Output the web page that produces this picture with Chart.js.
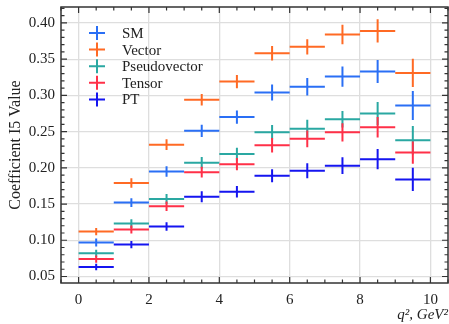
<!DOCTYPE html>
<html lang="en">
<head>
  <meta charset="UTF-8">
  <title>Coefficient I5 Value</title>
  <script src="https://cdn.jsdelivr.net/npm/chart.js"></script>
  <style>
    html, body { margin: 0; padding: 0; background: #fff; }
    canvas { display: block; }
  </style>
</head>
<body>

  <canvas id="myChart" width="449" height="324"></canvas>

  <script>
    // bins in q^2 (centre and half width)
    const q2Centers = [0.5, 1.5, 2.5, 3.5, 4.5, 5.5, 6.5, 7.5, 8.5, 9.5];
    const q2HalfWidth = 0.5;

    const seriesNames = ['SM', 'Vector', 'Pseudovector', 'Tensor', 'PT'];

    const smValues     = [0.097, 0.152, 0.195, 0.251, 0.270, 0.304, 0.312, 0.326, 0.333, 0.286];
    const smErrors     = [0.0055, 0.006, 0.0072, 0.0085, 0.009, 0.011, 0.012, 0.014, 0.016, 0.020];
    const vectorValues = [0.112, 0.179, 0.232, 0.294, 0.319, 0.358, 0.367, 0.384, 0.389, 0.331];
    const vectorErrors = [0.005, 0.0065, 0.0074, 0.008, 0.009, 0.010, 0.0106, 0.0134, 0.016, 0.0194];
    const pseudoValues = [0.082, 0.123, 0.157, 0.207, 0.219, 0.249, 0.254, 0.267, 0.275, 0.238];
    const pseudoErrors = [0.005, 0.006, 0.007, 0.008, 0.0088, 0.010, 0.0125, 0.0115, 0.016, 0.0196];
    const tensorValues = [0.074, 0.115, 0.147, 0.194, 0.205, 0.231, 0.240, 0.249, 0.256, 0.221];
    const tensorErrors = [0.005, 0.0055, 0.0065, 0.0075, 0.0085, 0.010, 0.0115, 0.0125, 0.0143, 0.0155];
    const ptValues     = [0.063, 0.094, 0.119, 0.160, 0.167, 0.189, 0.196, 0.203, 0.212, 0.184];
    const ptErrors     = [0.0045, 0.005, 0.006, 0.0076, 0.008, 0.009, 0.0104, 0.0115, 0.0139, 0.016];

    const xTicks = [0, 2, 4, 6, 8, 10];
    const yTicks = [0.05, 0.10, 0.15, 0.20, 0.25, 0.30, 0.35, 0.40];

    const colors = ['#2a6ff5', '#ff6a24', '#2aa8a2', '#ff3048', '#1515f0'];
    const allValues = [smValues, vectorValues, pseudoValues, tensorValues, ptValues];
    const allErrors = [smErrors, vectorErrors, pseudoErrors, tensorErrors, ptErrors];

    const serif = "'Liberation Serif', 'DejaVu Serif', serif";

    const datasets = seriesNames.map((name, i) => ({
      label: name,
      data: q2Centers.map((x, j) => ({ x: x, y: allValues[i][j] })),
      yErr: allErrors[i],
      borderColor: colors[i],
      backgroundColor: colors[i],
      pointRadius: 0,
      showLine: false
    }));

    // error bar crosses
    const errorBars = {
      id: 'errorBars',
      afterDatasetsDraw(chart) {
        const c = chart.ctx, xs = chart.scales.x, ys = chart.scales.y;
        c.save();
        c.lineWidth = 2;
        chart.data.datasets.forEach(ds => {
          c.strokeStyle = ds.borderColor;
          ds.data.forEach((p, j) => {
            const px = xs.getPixelForValue(p.x), py = ys.getPixelForValue(p.y);
            c.beginPath();
            c.moveTo(xs.getPixelForValue(p.x - q2HalfWidth), py);
            c.lineTo(xs.getPixelForValue(p.x + q2HalfWidth), py);
            c.moveTo(px, ys.getPixelForValue(p.y - ds.yErr[j]));
            c.lineTo(px, ys.getPixelForValue(p.y + ds.yErr[j]));
            c.stroke();
          });
        });
        c.restore();
      }
    };

    // frame with inward ticks on all four sides + legend inside the axes
    const frameAndLegend = {
      id: 'frameAndLegend',
      afterDraw(chart) {
        const c = chart.ctx, a = chart.chartArea, xs = chart.scales.x, ys = chart.scales.y;
        c.save();
        c.strokeStyle = '#333';
        c.lineWidth = 1.5;
        c.strokeRect(a.left, a.top, a.right - a.left, a.bottom - a.top);

        c.lineWidth = 1.2;
        c.beginPath();
        for (let v = -0.5; v <= 10.5 + 1e-9; v += 0.5) {
          const px = xs.getPixelForValue(v);
          const len = Math.abs(v % 2) < 1e-9 ? 6 : 3.5;
          c.moveTo(px, a.bottom); c.lineTo(px, a.bottom - len);
          c.moveTo(px, a.top); c.lineTo(px, a.top + len);
        }
        for (let k = 5; k <= 42; k++) {
          const v = k / 100;
          const py = ys.getPixelForValue(v);
          const len = k % 5 === 0 ? 6 : 3.5;
          c.moveTo(a.left, py); c.lineTo(a.left + len, py);
          c.moveTo(a.right, py); c.lineTo(a.right - len, py);
        }
        c.stroke();

        // legend
        c.font = '15px ' + serif;
        c.textBaseline = 'middle';
        c.textAlign = 'left';
        seriesNames.forEach((name, i) => {
          const cx = a.left + 36, cy = a.top + 26 + i * 16.6;
          c.strokeStyle = colors[i];
          c.lineWidth = 2;
          c.beginPath();
          c.moveTo(cx - 8, cy); c.lineTo(cx + 8, cy);
          c.moveTo(cx, cy - 7); c.lineTo(cx, cy + 7);
          c.stroke();
          c.fillStyle = '#222';
          c.fillText(name, a.left + 61, cy + 1);
        });
        c.restore();
      }
    };

    const chart = new Chart(document.getElementById('myChart'), {
      type: 'scatter',
      data: { datasets: datasets },
      plugins: [errorBars, frameAndLegend],
      options: {
        responsive: false,
        animation: false,
        layout: { padding: { top: 7, right: 1, left: 0, bottom: 0 } },
        plugins: {
          legend: { display: false },
          tooltip: { enabled: false }
        },
        scales: {
          x: {
            type: 'linear',
            min: -0.5,
            max: 10.5,
            afterFit: s => { s.height = 41; s.paddingLeft = 0; s.paddingRight = 0; },
            afterBuildTicks: s => { s.ticks = xTicks.map(v => ({ value: v })); },
            grid: { color: '#dedede', lineWidth: 1.3, drawTicks: false },
            border: { display: false },
            ticks: {
              padding: 8,
              color: '#222',
              font: { family: serif, size: 15 },
              callback: v => String(v)
            },
            title: {
              display: true,
              text: 'q², GeV²',
              align: 'end',
              color: '#222',
              padding: { top: 0, bottom: 0 },
              font: { family: serif, size: 15, style: 'italic' }
            }
          },
          y: {
            min: 0.041,
            max: 0.422,
            afterFit: s => { s.width = 61; s.paddingTop = 0; s.paddingBottom = 0; },
            afterBuildTicks: s => { s.ticks = yTicks.map(v => ({ value: v })); },
            grid: { color: '#dedede', lineWidth: 1.3, drawTicks: false },
            border: { display: false },
            ticks: {
              padding: 6,
              color: '#222',
              font: { family: serif, size: 15 },
              callback: v => v.toFixed(2)
            },
            title: {
              display: true,
              text: 'Coefficient I5 Value',
              color: '#222',
              padding: { top: 6, bottom: 0 },
              font: { family: serif, size: 16 }
            }
          }
        }
      }
    });
  </script>

</body>
</html>
